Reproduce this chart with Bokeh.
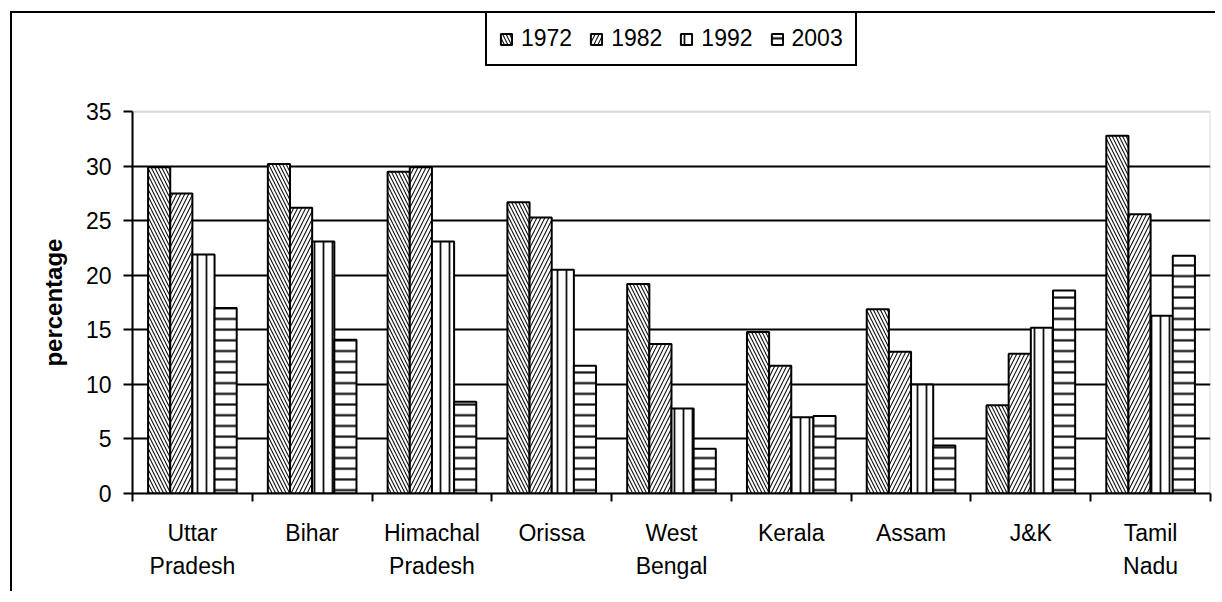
from bokeh.plotting import figure
from bokeh.models import (ColumnDataSource, Range1d, FixedTicker, Legend, LegendItem,
                          BoxAnnotation, LinearAxis)
from bokeh.embed import file_html
from bokeh.resources import INLINE

states = ["Uttar\nPradesh", "Bihar", "Himachal\nPradesh", "Orissa", "West\nBengal",
          "Kerala", "Assam", "J&K", "Tamil\nNadu"]
years = ["1972", "1982", "1992", "2003"]
v1972 = [29.9, 30.2, 29.5, 26.7, 19.2, 14.8, 16.9, 8.1, 32.8]
v1982 = [27.5, 26.2, 29.9, 25.3, 13.7, 11.7, 13.0, 12.8, 25.6]
v1992 = [21.9, 23.1, 23.1, 20.5, 7.8, 7.0, 10.0, 15.2, 16.3]
v2003 = [17.0, 14.1, 8.4, 11.7, 4.1, 7.1, 4.4, 18.6, 21.8]
y_ticks = [0, 5, 10, 15, 20, 25, 30, 35]
y_title = "percentage"

series = [v1972, v1982, v1992, v2003]
hatches = ["\\", "/", "|", "-"]
hscale = [7, 8, 9, 10.7]
hweight = [1.1, 1.1, 1.8, 2.2]

FONT = "Liberation Sans"
Y_MAX = 35
Y_TOP = 44  # room above the plot area for the legend

p = figure(width=1205, height=580, output_backend="svg", toolbar_location=None,
           x_range=Range1d(0, len(states)), y_range=Range1d(0, Y_TOP),
           min_border_left=120, min_border_top=0, min_border_right=7, min_border_bottom=100)
p.styles = {"border-top": "2px solid black", "border-left": "2px solid black",
            "margin-left": "10px", "margin-top": "11px"}
p.outline_line_color = None
p.background_fill_color = "white"
p.border_fill_color = "white"

# plot-area border (grey top and right)
p.add_layout(BoxAnnotation(left=0, right=len(states), bottom=0, top=Y_MAX,
                           fill_alpha=0, line_color="#808080", line_width=2,
                           level="underlay"))

bar_w = 0.185
offsets = [-1.5 * bar_w, -0.5 * bar_w, 0.5 * bar_w, 1.5 * bar_w]
items = []
for k, (yr, vals) in enumerate(zip(years, series)):
    src = ColumnDataSource(dict(x=[i + 0.5 + offsets[k] for i in range(len(states))], top=vals))
    r = p.vbar(x="x", top="top", width=bar_w, bottom=0, source=src,
               fill_color="white", line_color="black", line_width=2,
               hatch_pattern=hatches[k], hatch_color="#111111",
               hatch_scale=hscale[k], hatch_weight=hweight[k])
    items.append(LegendItem(label=yr, renderers=[r]))

# x axis
xa = p.xaxis[0]
xa.ticker = FixedTicker(ticks=[i + 0.5 for i in range(len(states))],
                        minor_ticks=list(range(len(states) + 1)))
xa.major_label_overrides = {i + 0.5: s for i, s in enumerate(states)}
xa.major_tick_out = 0
xa.major_tick_in = 0
xa.minor_tick_out = 8
xa.minor_tick_in = 0
xa.minor_tick_line_width = 2
xa.minor_tick_line_color = "black"
xa.axis_line_width = 2
xa.axis_line_color = "black"
xa.major_label_text_font = FONT
xa.major_label_text_font_size = "23px"
xa.major_label_text_color = "black"
xa.major_label_standoff = 18
xa.major_label_text_line_height = 1.3

ya = p.yaxis[0]
ya.bounds = (0, Y_MAX)
ya.ticker = FixedTicker(ticks=y_ticks, minor_ticks=[])
ya.major_tick_out = 9
ya.major_tick_in = 0
ya.major_tick_line_width = 2
ya.axis_line_width = 2
ya.axis_line_color = "black"
ya.major_label_text_font = FONT
ya.major_label_text_font_size = "23px"
ya.major_label_text_color = "black"
ya.major_label_standoff = 12

# y title centred on the 0-35 plot area (second, label-only axis)
mid = Y_MAX / 2
ta = LinearAxis(ticker=FixedTicker(ticks=[mid], minor_ticks=[]),
                major_label_overrides={mid: y_title},
                major_label_orientation="vertical",
                axis_line_color=None, major_tick_line_color=None,
                minor_tick_line_color=None,
                major_label_text_font=FONT, major_label_text_font_style="bold",
                major_label_text_font_size="24px", major_label_text_color="black",
                major_label_standoff=9)
p.add_layout(ta, "left")

p.xgrid.visible = False
p.ygrid.ticker = FixedTicker(ticks=y_ticks[1:-1])
p.ygrid.grid_line_color = "black"
p.ygrid.grid_line_width = 2

legend = Legend(items=items, orientation="horizontal", location=(353, 427),
                glyph_width=14, glyph_height=14, label_standoff=8, spacing=17,
                padding=12, margin=0, border_line_color="black", border_line_width=2,
                border_line_alpha=1,
                background_fill_color="white", background_fill_alpha=1,
                label_text_font=FONT, label_text_font_size="23px",
                label_text_color="black")
p.add_layout(legend, "center")

open("out.html", "w").write(file_html(p, INLINE))
